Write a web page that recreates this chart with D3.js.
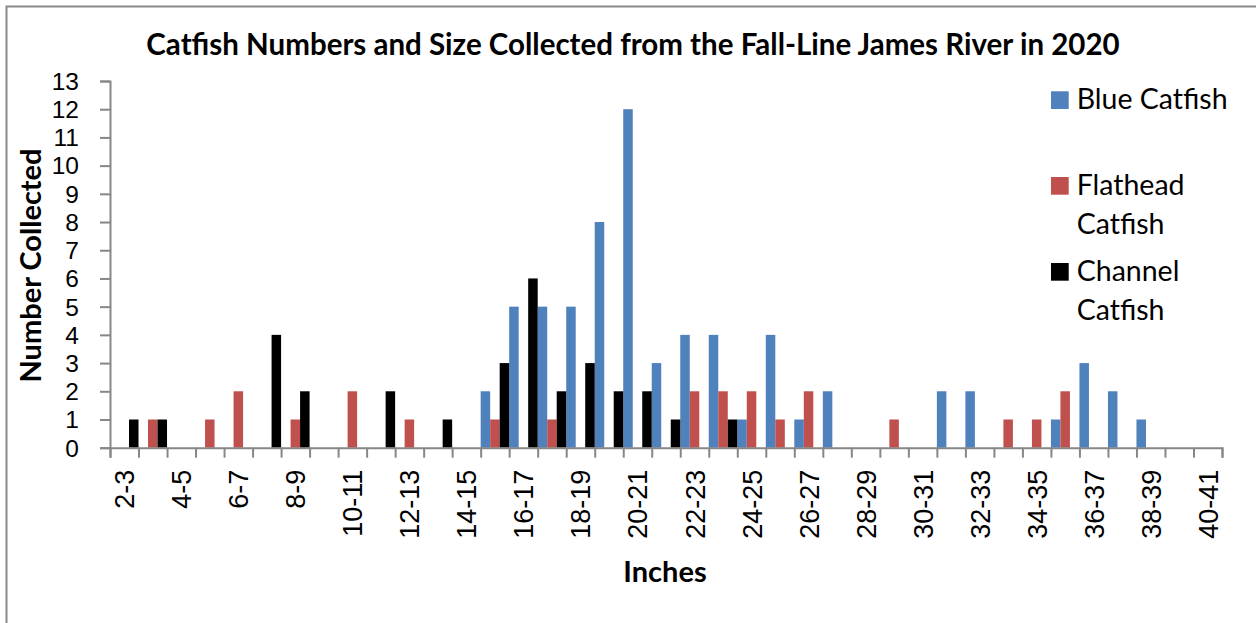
<!DOCTYPE html>
<html><head><meta charset="utf-8">
<script src="https://cdn.jsdelivr.net/npm/d3@7"></script>
<style>html,body{margin:0;padding:0;background:#fff;} svg{display:block;}</style>
</head><body>
<svg id="chart" width="1256" height="623"></svg>
<script>
const categories = ["2-3","3-4","4-5","5-6","6-7","7-8","8-9","9-10","10-11","11-12","12-13","13-14","14-15","15-16","16-17","17-18","18-19","19-20","20-21","21-22","22-23","23-24","24-25","25-26","26-27","27-28","28-29","29-30","30-31","31-32","32-33","33-34","34-35","35-36","36-37","37-38","38-39","39-40","40-41"];
const blueCatfish     = [0,0,0,0,0,0,0,0,0,0,0,0,0,2,5,5,5,8,12,3,4,4,1,4,1,2,0,0,0,2,2,0,0,1,3,2,1,0,0];
const flatheadCatfish = [0,1,0,1,2,0,1,0,2,0,1,0,0,1,0,1,0,0,0,0,2,2,2,1,2,0,0,1,0,0,0,1,1,2,0,0,0,0,0];
const channelCatfish  = [1,1,0,0,0,4,2,0,0,2,0,1,0,3,6,2,3,2,2,1,0,1,0,0,0,0,0,0,0,0,0,0,0,0,0,0,0,0,0];
const seriesNames = ["Blue Catfish","Flathead Catfish","Channel Catfish"];
const seriesColors = ["#4F81BD","#C0504D","#000000"];
const yTicks = [0,1,2,3,4,5,6,7,8,9,10,11,12,13];
const xLabelCats = categories.filter((c,i)=>i%2===0);
const titleText = "Catfish Numbers and Size Collected from the Fall-Line James River in 2020";
const xTitle = "Inches";
const yTitle = "Number Collected";

const FONT = "Lato, 'Open Sans', sans-serif";
const TICKFONT = "'Liberation Sans', Arial, sans-serif";
const AXIS = "#878787";
const svg = d3.select("#chart");

// outer frame (left and top edges visible)
svg.append("path").attr("d","M6.5,623 L6.5,6.5 L1256,6.5")
  .attr("fill","none").attr("stroke","#8a8a8a").attr("stroke-width",2);

const plotL = 110, plotR = 1222, plotT = 81, plotB = 447.7;
const x = d3.scaleBand().domain(categories).range([plotL, plotR]).padding(0);
const xs = d3.scaleBand().domain(seriesNames).range([0, x.bandwidth()]).padding(0);
const y = d3.scaleLinear().domain([0, 13]).range([plotB, plotT]);
const xi = d3.scaleLinear().domain([0, categories.length]).range([plotL, plotR]);

// bars
const seriesData = [blueCatfish, flatheadCatfish, channelCatfish];
seriesData.forEach((vals, si) => {
  svg.append("g").selectAll("rect").data(vals.map((v,i)=>({c:categories[i], v})).filter(d=>d.v>0))
    .join("rect")
    .attr("x", d => x(d.c) + xs(seriesNames[si]))
    .attr("width", xs.bandwidth())
    .attr("y", d => y(d.v))
    .attr("height", d => y(0) - y(d.v))
    .attr("fill", seriesColors[si]);
});

// y axis
const gy = svg.append("g").attr("transform", `translate(${plotL},0)`)
  .call(d3.axisLeft(y).tickValues(yTicks).tickSize(10).tickPadding(21).tickFormat(d3.format("d")));
gy.select(".domain").attr("stroke", AXIS).attr("stroke-width", 2);
gy.selectAll(".tick line").attr("stroke", AXIS).attr("stroke-width", 2);
gy.selectAll(".tick text").attr("font-family", TICKFONT).attr("font-size", 24.5).attr("fill","#000")
  .attr("dy", "0.34em");

// x axis: boundary ticks
const gx = svg.append("g").attr("transform", `translate(0,${plotB})`)
  .call(d3.axisBottom(xi).tickValues(d3.range(categories.length + 1)).tickSize(10).tickFormat(""));
gx.select(".domain").attr("stroke", AXIS).attr("stroke-width", 2);
gx.selectAll(".tick line").attr("stroke", AXIS).attr("stroke-width", 2);

// x axis labels
const gxl = svg.append("g").attr("transform", `translate(0,${plotB})`)
  .call(d3.axisBottom(x).tickValues(xLabelCats).tickSize(0));
gxl.select(".domain").remove();
gxl.selectAll(".tick text")
  .attr("font-family", TICKFONT).attr("font-size", 27).attr("fill","#000")
  .attr("transform","rotate(-90)")
  .attr("text-anchor","end")
  .attr("x", -22).attr("y", 10).attr("dy", 0);

// title
svg.append("text").attr("x", 633).attr("y", 55).attr("text-anchor","middle")
  .attr("font-family", FONT).attr("font-weight","bold").attr("font-size", 29.5)
  .text(titleText);

// axis titles
svg.append("text").attr("x", 665).attr("y", 581.7).attr("text-anchor","middle")
  .attr("font-family", FONT).attr("font-weight","bold").attr("font-size", 29)
  .text(xTitle);
svg.append("text").attr("transform","translate(41,265.5) rotate(-90)").attr("text-anchor","middle")
  .attr("font-family", FONT).attr("font-weight","bold").attr("font-size", 29)
  .text(yTitle);

// legend
const legendItems = [
  {name: seriesNames[0], lines: ["Blue Catfish"], color: seriesColors[0], base: 109.3},
  {name: seriesNames[1], lines: ["Flathead","Catfish"], color: seriesColors[1], base: 195},
  {name: seriesNames[2], lines: ["Channel","Catfish"], color: seriesColors[2], base: 281}
];
const lg = svg.append("g");
legendItems.forEach(it => {
  lg.append("rect").attr("x", 1051).attr("y", it.base - 18).attr("width", 17.7).attr("height", 17.7)
    .attr("fill", it.color);
  it.lines.forEach((ln, k) => {
    lg.append("text").attr("x", 1076.7).attr("y", it.base + k*39)
      .attr("font-family", FONT).attr("font-size", 28.5).attr("fill","#000").text(ln);
  });
});
</script>
</body></html>
